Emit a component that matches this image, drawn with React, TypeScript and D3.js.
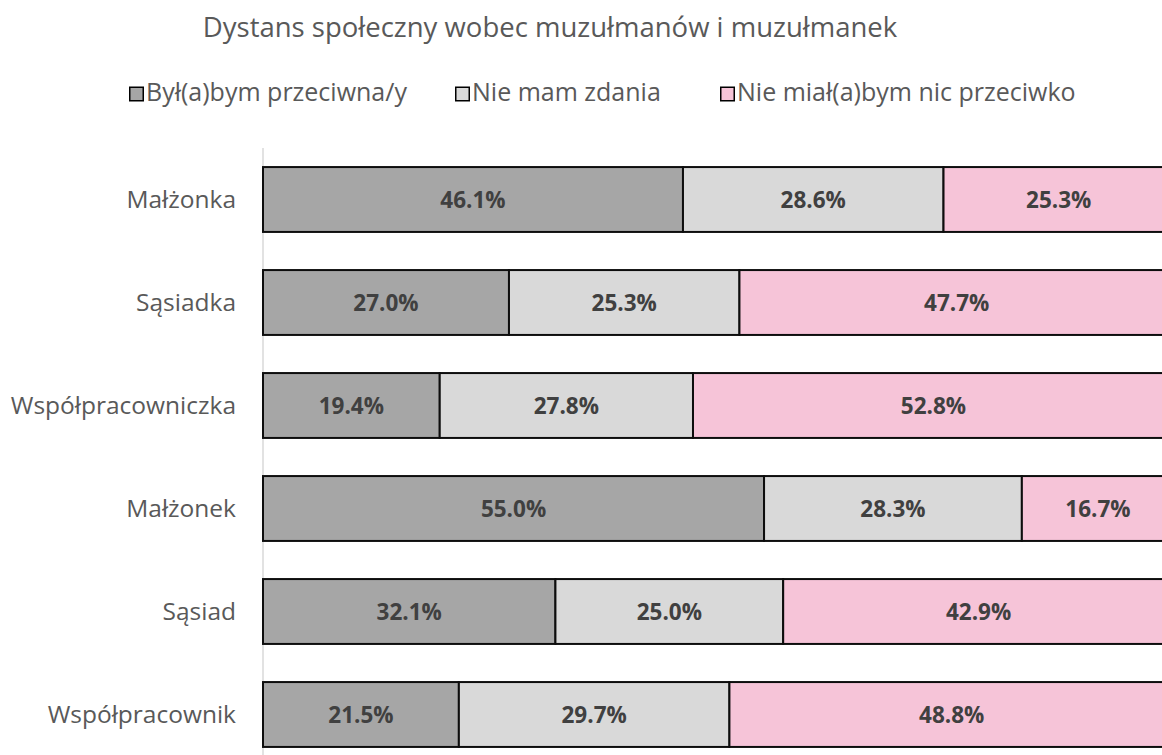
import React, { useEffect, useRef } from "react";
import * as d3 from "d3";

const categories = ["Małżonka", "Sąsiadka", "Współpracowniczka", "Małżonek", "Sąsiad", "Współpracownik"];
const against = [46.1, 27.0, 19.4, 55.0, 32.1, 21.5];
const noOpinion = [28.6, 25.3, 27.8, 28.3, 25.0, 29.7];
const notAgainst = [25.3, 47.7, 52.8, 16.7, 42.9, 48.8];
const seriesNames = ["Był(a)bym przeciwna/y", "Nie mam zdania", "Nie miał(a)bym nic przeciwko"];
const seriesColors = ["#a6a6a6", "#d9d9d9", "#f6c4d8"];
const title = "Dystans społeczny wobec muzułmanów i muzułmanek";

const W = 1162;
const H = 755;
const FONT = "'Open Sans', 'Noto Sans', sans-serif";

const App = () => {
  const ref = useRef<SVGSVGElement>(null);

  useEffect(() => {
    const svg = d3.select(ref.current);
    svg.selectAll("*").remove();

    const margin = { top: 148, left: 263 };
    const plotRight = 1174; // 100% lies past the right edge, as in the original

    const rows = categories.map((c, i) => ({
      cat: c,
      values: [against[i], noOpinion[i], notAgainst[i]],
    }));

    const x = d3.scaleLinear().domain([0, 100]).range([margin.left, plotRight]);
    const y = d3
      .scaleBand()
      .domain(categories)
      .range([margin.top, margin.top + 103 * categories.length])
      .paddingInner(0.37)
      .paddingOuter(0.185);

    // title
    svg
      .append("text")
      .attr("x", 550)
      .attr("y", 37)
      .attr("text-anchor", "middle")
      .attr("font-family", FONT)
      .attr("font-size", 27.5)
      .attr("fill", "#595959")
      .text(title);

    // legend
    const legendX = [129, 455, 720];
    const legend = svg.append("g");
    seriesNames.forEach((name, i) => {
      const lx = legendX[i];
      legend
        .append("rect")
        .attr("x", lx + 0.75)
        .attr("y", 87.25)
        .attr("width", 13.5)
        .attr("height", 13.5)
        .attr("fill", seriesColors[i])
        .attr("stroke", "#000")
        .attr("stroke-width", 1.5);
      legend
        .append("text")
        .attr("x", lx + 17)
        .attr("y", 101)
        .attr("font-family", FONT)
        .attr("font-size", 25)
        .attr("fill", "#595959")
        .text(name);
    });

    // axis line
    svg
      .append("line")
      .attr("x1", margin.left)
      .attr("x2", margin.left)
      .attr("y1", margin.top)
      .attr("y2", H)
      .attr("stroke", "#d9d9d9")
      .attr("stroke-width", 1.5);

    // category labels
    svg
      .append("g")
      .selectAll("text")
      .data(categories)
      .join("text")
      .attr("x", 236)
      .attr("y", d => (y(d) as number) + y.bandwidth() / 2)
      .attr("dy", "0.36em")
      .attr("text-anchor", "end")
      .attr("font-family", FONT)
      .attr("font-size", 24.5)
      .attr("fill", "#595959")
      .text(d => d);

    // stacked segments
    const segs = rows.flatMap(r => {
      let acc = 0;
      return r.values.map((v, i) => {
        const s = { cat: r.cat, x0: acc, x1: acc + v, v, i };
        acc += v;
        return s;
      });
    });

    svg
      .append("g")
      .selectAll("rect")
      .data(segs)
      .join("rect")
      .attr("x", d => x(d.x0))
      .attr("y", d => y(d.cat) as number)
      .attr("width", d => x(d.x1) - x(d.x0))
      .attr("height", y.bandwidth())
      .attr("fill", d => seriesColors[d.i])
      .attr("stroke", "#0d0d0d")
      .attr("stroke-width", 2);

    svg
      .append("g")
      .selectAll("text")
      .data(segs)
      .join("text")
      .attr("x", d => (x(d.x0) + x(d.x1)) / 2)
      .attr("y", d => (y(d.cat) as number) + y.bandwidth() / 2)
      .attr("dy", "0.36em")
      .attr("text-anchor", "middle")
      .attr("font-family", FONT)
      .attr("font-weight", "bold")
      .attr("font-size", 22.5)
      .attr("fill", "#404040")
      .text(d => d.v.toFixed(1) + "%");
  }, []);

  return (
    <svg
      ref={ref}
      width={W}
      height={H}
      style={{ position: "absolute", left: 0, top: 0, background: "#fff" }}
    />
  );
};

export default App;
